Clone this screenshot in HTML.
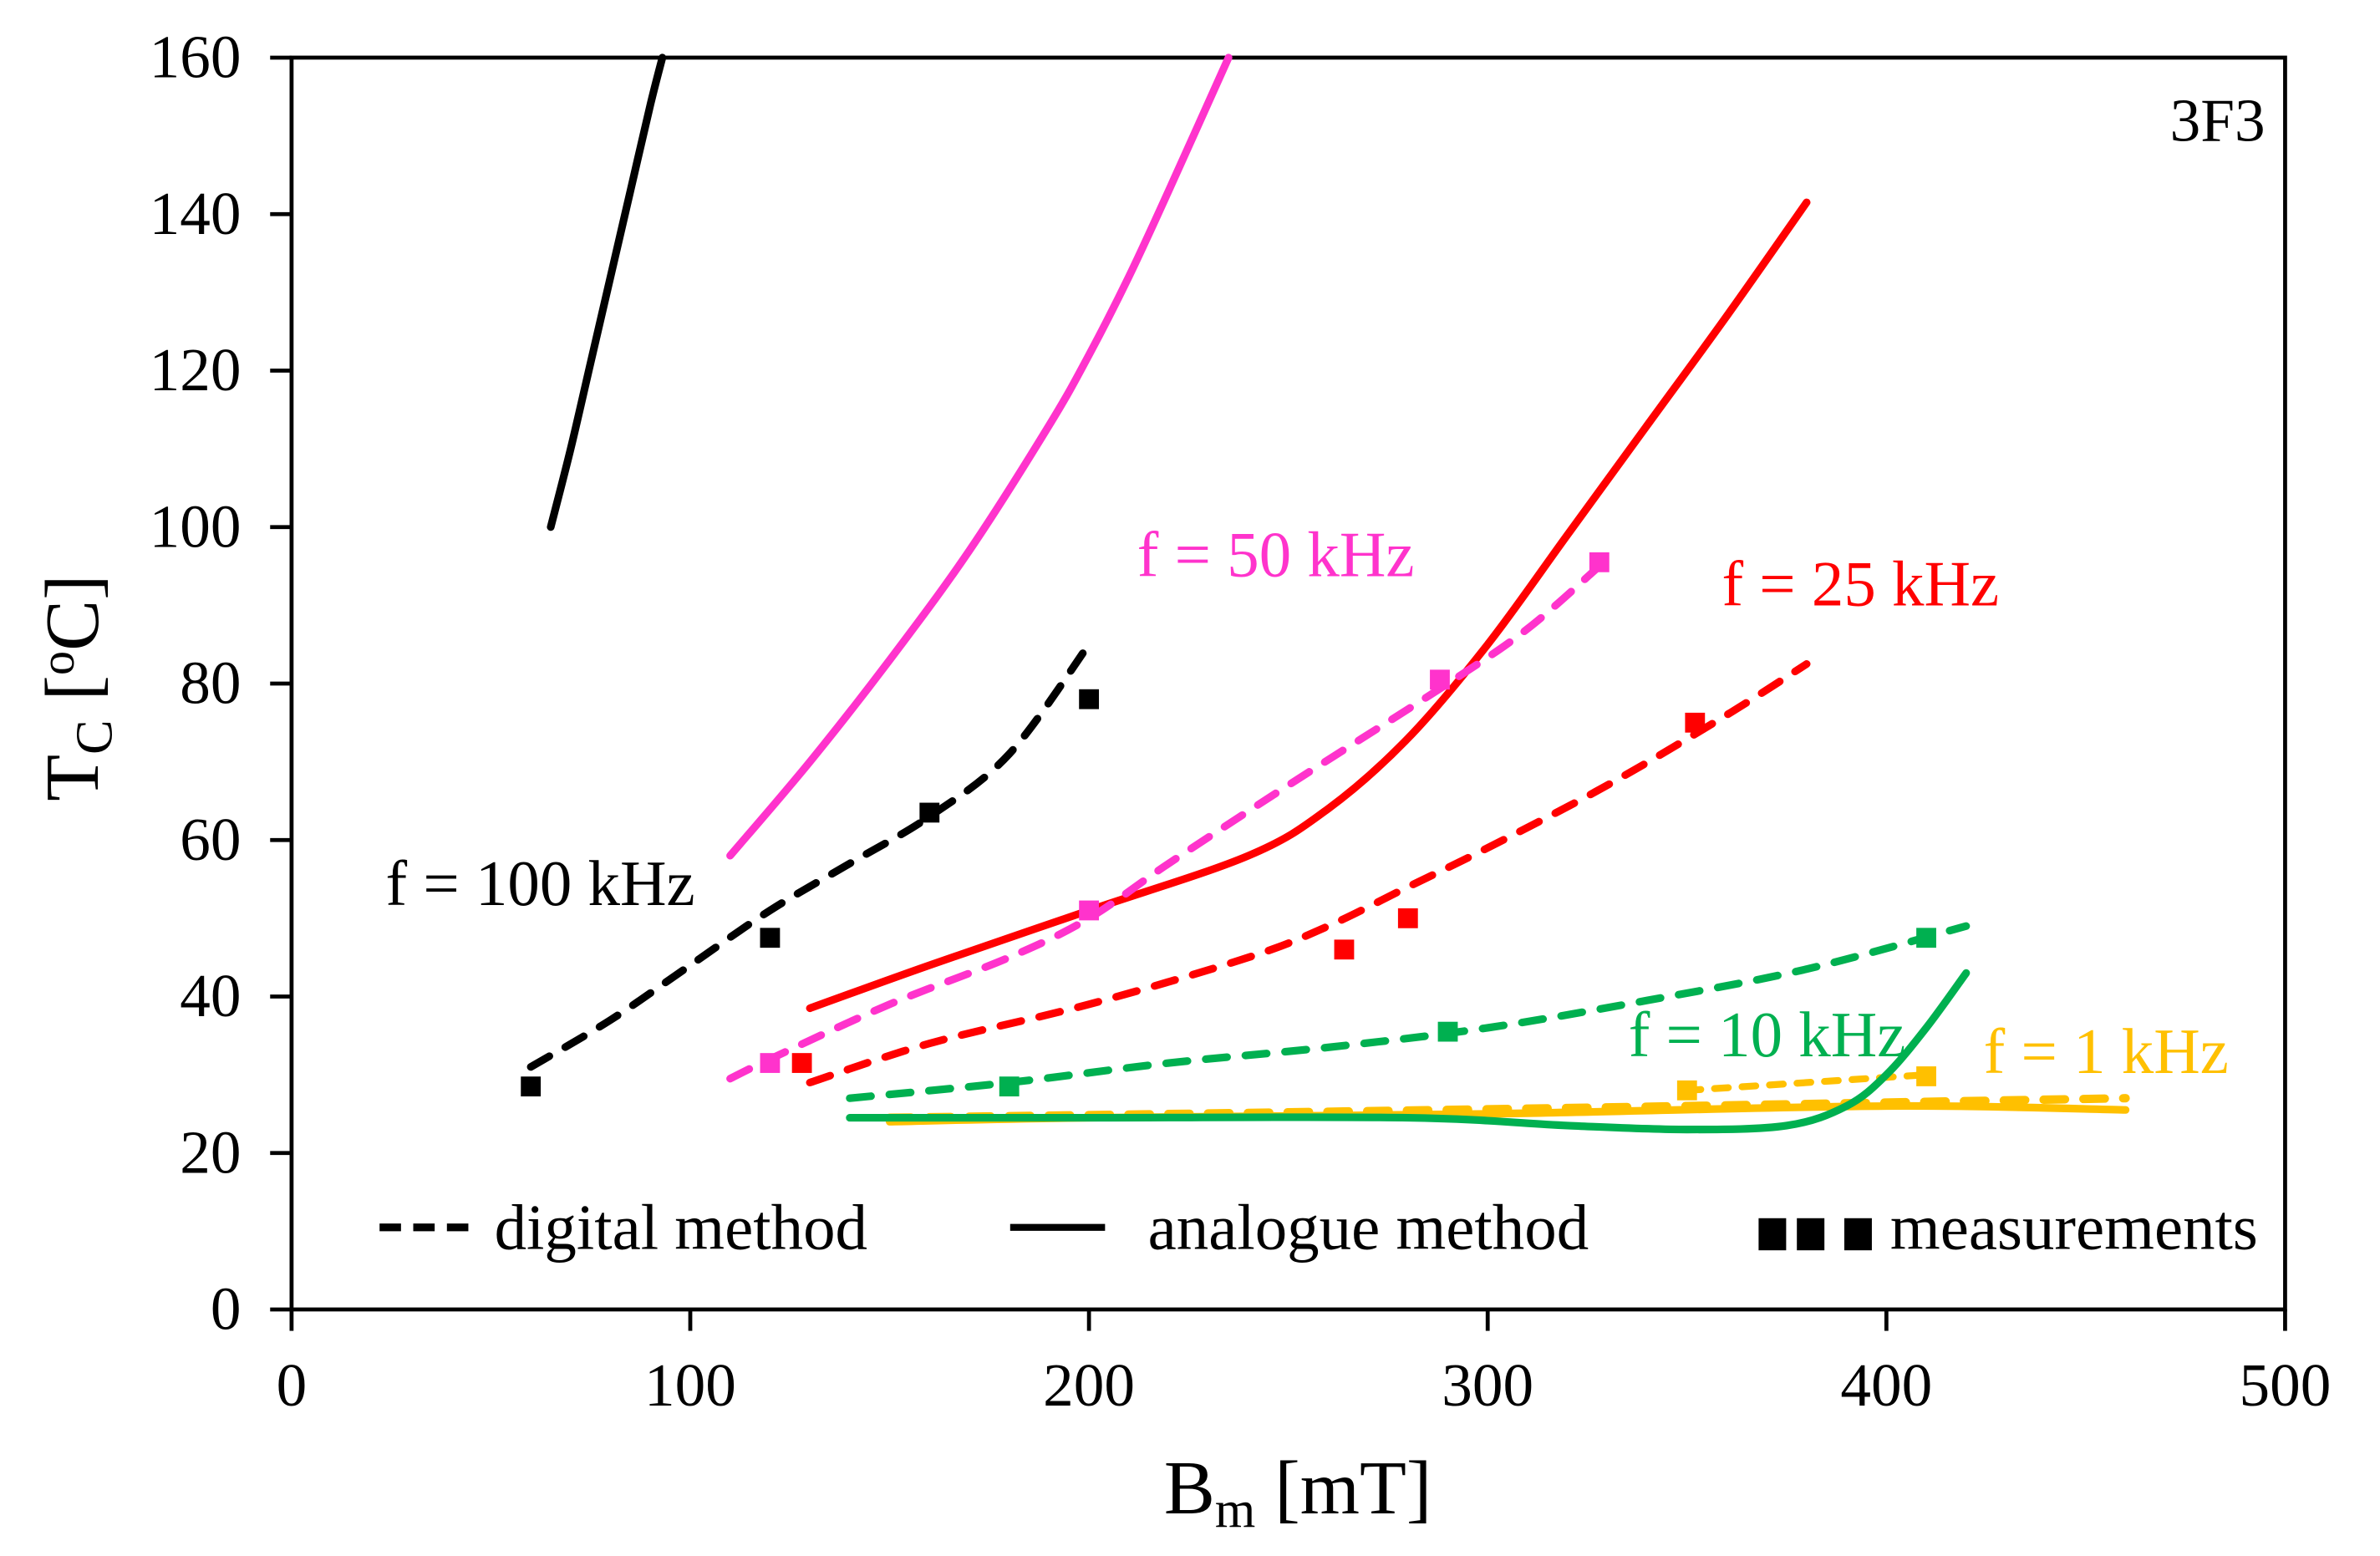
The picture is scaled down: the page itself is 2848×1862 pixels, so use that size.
<!DOCTYPE html>
<html><head><meta charset="utf-8"><style>
html,body{margin:0;padding:0;background:#fff;}
svg{display:block;font-family:"Liberation Serif",serif;}
</style></head><body>
<svg id="chart" width="2848" height="1862" viewBox="0 0 1555 1018" preserveAspectRatio="none" xmlns="http://www.w3.org/2000/svg">
<g id="axes"></g>
<g id="series"></g>
<g id="labels">
<text x="1480" y="92" font-size="40" text-anchor="end">3F3</text>
<text x="252" y="592" font-size="42" fill="#000">f = 100 kHz</text>
<text x="743" y="377" font-size="42" fill="#FF33CC">f = 50 kHz</text>
<text x="1125" y="396" font-size="42" fill="#FF0000">f = 25 kHz</text>
<text x="1064" y="691" font-size="42" fill="#00B050">f = 10 kHz</text>
<text x="1296" y="702" font-size="42" fill="#FFC000">f = 1 kHz</text>
<text x="848" y="990" font-size="50" text-anchor="middle">B<tspan font-size="34" dy="9">m</tspan><tspan dy="-9"> [mT]</tspan></text>
<text transform="translate(64,450) rotate(-90)" font-size="50" text-anchor="middle">T<tspan font-size="34" dy="9">C</tspan><tspan dy="-9">  [</tspan><tspan font-size="32" dy="-16">o</tspan><tspan dy="16">C]</tspan></text>
</g>
<g id="legend">
<line x1="248" y1="803" x2="312" y2="803" stroke="#000" stroke-width="5" stroke-dasharray="14,8"/>
<text x="323" y="817" font-size="42">digital method</text>
<line x1="660" y1="803" x2="722" y2="803" stroke="#000" stroke-width="4.5"/>
<text x="750" y="817" font-size="42">analogue method</text>
<rect x="1149" y="797" width="18" height="21" fill="#000"/>
<rect x="1174" y="797" width="18" height="21" fill="#000"/>
<rect x="1205" y="797" width="18" height="21" fill="#000"/>
<text x="1235" y="817" font-size="42">measurements</text>
</g>
</svg>
<script>
const xTicks = [0,100,200,300,400,500];
const yTicks = [0,20,40,60,80,100,120,140,160];
const blackSolidX = [65,70,75,80,85,90,93];
const blackSolidY = [100,110,121,132,143,154,160];
const blackDashX = [60,80,100,120,140,160,180,200];
const blackDashY = [31,37,44,51,57,63,71,85];
const blackMeasX = [60,120,160,200];
const blackMeasY = [28.5,47.5,63.5,78];
const pinkSolidX = [110,130,150,170,190,200,210,220,235];
const pinkSolidY = [58,70,83,97,113,122,132,143,160];
const pinkDashX = [110,120,150,180,200,220,250,290,310,328];
const pinkDashY = [29.5,32,39,45,50,57,67,80,87,95];
const pinkMeasX = [120,200,288,328];
const pinkMeasY = [31.5,51,80.5,95.5];
const redSolidX = [130,160,200,240,260,280,300,320,340,360,380];
const redSolidY = [38.5,44,51,58,64,73,85,99,113,127,141.5];
const redDashX = [130,160,200,240,260,280,300,330,360,380];
const redDashY = [29,34,39,45,49,54,59,67,76,82.5];
const redMeasX = [128,264,280,352];
const redMeasY = [31.5,46,50,75];
const greenSolidX = [140,200,280,320,350,375,390,400,410,420];
const greenSolidY = [24.5,24.5,24.5,23.5,23,23.5,26,30,36,43];
const greenDashX = [140,180,220,260,300,340,380,420];
const greenDashY = [27,29,31.5,33.5,36,39.5,43.5,49];
const greenMeasX = [180,290,410];
const greenMeasY = [28.5,35.5,47.5];
const yellowSolidX = [150,200,300,400,460];
const yellowSolidY = [24,24.5,25,26,25.5];
const yellowDashX = [150,250,350,460];
const yellowDashY = [24.5,25.2,26,27];
const yellowDash2X = [350,410];
const yellowDash2Y = [28,30];
const yellowMeasX = [350,410];
const yellowMeasY = [28,29.8];

const L=190.5,R=1493,T=37.7,B=856.7;
const sx=v=>L+(R-L)*v/500;
const sy=v=>B-(B-T)*v/160;
const NS="http://www.w3.org/2000/svg";
const ax=document.getElementById('axes'), se=document.getElementById('series');
function mk(tag,attrs,parent){const e=document.createElementNS(NS,tag);for(const k in attrs)e.setAttribute(k,attrs[k]);parent.appendChild(e);return e;}
const frame=mk('rect',{x:L,y:T,width:R-L,height:B-T,fill:'none',stroke:'#000','stroke-width':2.6},ax);


xTicks.forEach(t=>{
  const l=mk('line',{x1:sx(t),x2:sx(t),y1:B,y2:B+14,stroke:'#000','stroke-width':2.6},ax);
  
  
  const tx=mk('text',{x:sx(t),y:B+63,'font-size':40,'text-anchor':'middle'},ax);
  tx.textContent=t;
  
  
});
yTicks.forEach(t=>{
  const l=mk('line',{x1:L-14,x2:L,y1:sy(t),y2:sy(t),stroke:'#000','stroke-width':2.6},ax);
  
  
  const tx=mk('text',{x:L-33,y:sy(t)+13,'font-size':40,'text-anchor':'end'},ax);
  tx.textContent=t;
  
  
});
function pathD(xs,ys){
  const p=xs.map((x,i)=>[sx(x),sy(ys[i])]);
  if(p.length<3)return 'M'+p.map(q=>q.join(',')).join('L');
  let d='M'+p[0][0]+','+p[0][1];
  for(let i=0;i<p.length-1;i++){
    const p0=p[i-1]||p[i],p1=p[i],p2=p[i+1],p3=p[i+2]||p2;
    const c1=[p1[0]+(p2[0]-p0[0])/6,p1[1]+(p2[1]-p0[1])/6];
    const c2=[p2[0]-(p3[0]-p1[0])/6,p2[1]-(p3[1]-p1[1])/6];
    d+='C'+c1+' '+c2+' '+p2;
  }
  return d;
}
function line(xs,ys,color,dash,name,w){
  const a={d:pathD(xs,ys),fill:'none',stroke:color,'stroke-width':w||5,'stroke-linecap':'round'};
  if(dash)a['stroke-dasharray']=dash;
  const e=mk('path',a,se);
  
  
}
function marks(xs,ys,color,name){
  xs.forEach((x,i)=>{
    const r=mk('rect',{x:sx(x)-6.5,y:sy(ys[i])-6.5,width:13,height:13,fill:color},se);
    
    
  });
}
const D='14,12';
line(yellowSolidX,yellowSolidY,'#FFC000',null,'yellow-analogue-line');
line(yellowDashX,yellowDashY,'#FFC000',D,'yellow-digital-line',5.5);
line(yellowDash2X,yellowDash2Y,'#FFC000','9,9','yellow-digital-line-2',4.5);
marks(yellowMeasX,yellowMeasY,'#FFC000','yellow-measurement');
line(greenSolidX,greenSolidY,'#00B050',null,'green-analogue-line');
line(greenDashX,greenDashY,'#00B050',D,'green-digital-line');
marks(greenMeasX,greenMeasY,'#00B050','green-measurement');
line(redSolidX,redSolidY,'#FF0000',null,'red-analogue-line');
line(redDashX,redDashY,'#FF0000',D,'red-digital-line');
marks(redMeasX,redMeasY,'#FF0000','red-measurement');
line(pinkSolidX,pinkSolidY,'#FF33CC',null,'pink-analogue-line');
line(pinkDashX,pinkDashY,'#FF33CC',D,'pink-digital-line');
marks(pinkMeasX,pinkMeasY,'#FF33CC','pink-measurement');
line(blackSolidX,blackSolidY,'#000',null,'black-analogue-line');
line(blackDashX,blackDashY,'#000',D,'black-digital-line');
marks(blackMeasX,blackMeasY,'#000','black-measurement');
</script>
</body></html>
